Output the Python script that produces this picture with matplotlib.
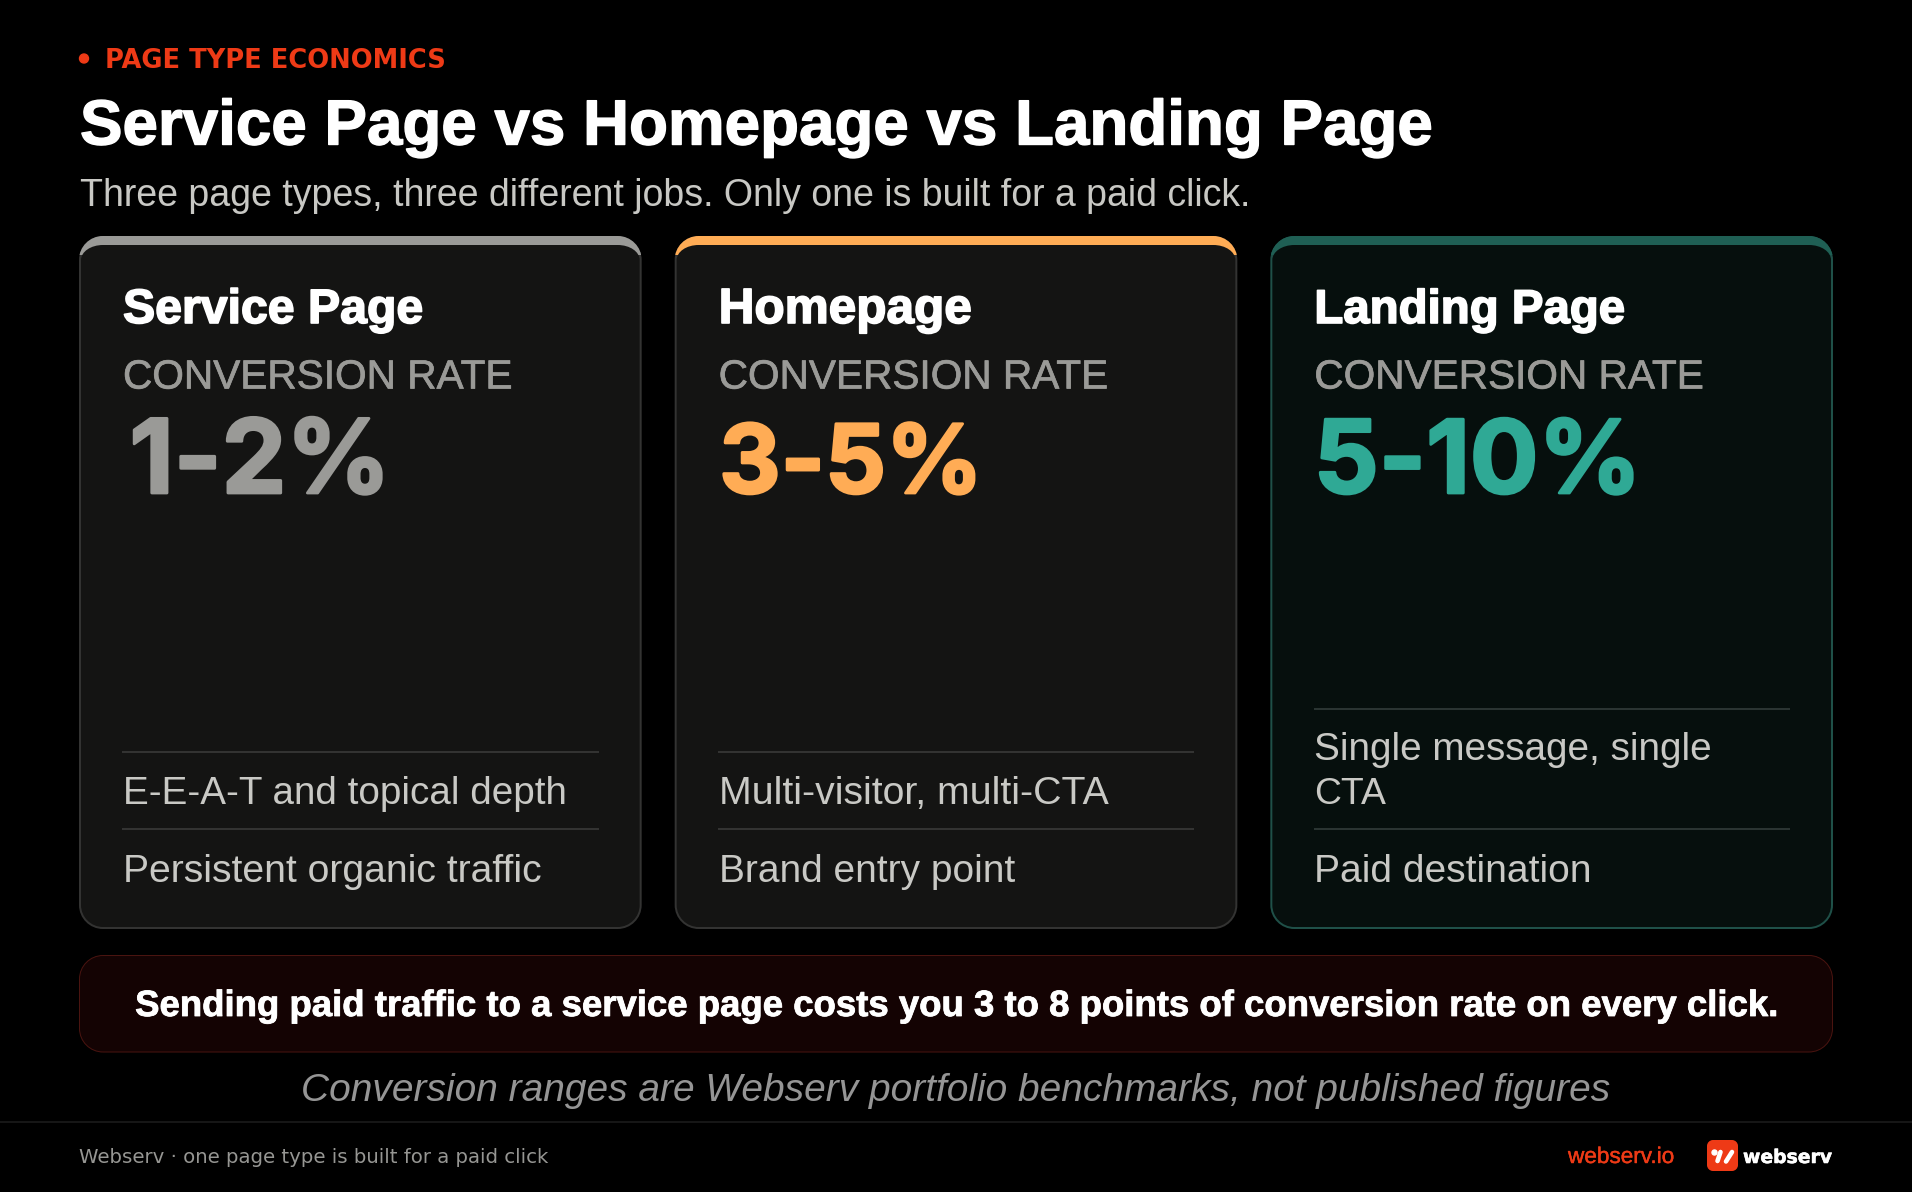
import matplotlib
matplotlib.use("Agg")
import matplotlib.pyplot as plt
from matplotlib.patches import PathPatch, Circle, Rectangle
from matplotlib.path import Path
import matplotlib.patheffects as pe

W, H = 1912, 1192

# content
eyebrow = "PAGE TYPE ECONOMICS"
title = "Service Page vs Homepage vs Landing Page"
subtitle = "Three page types, three different jobs. Only one is built for a paid click."
metric_label = "CONVERSION RATE"
card_names = ["Service Page", "Homepage", "Landing Page"]
card_rates = ["1-2%", "3-5%", "5-10%"]
card_first_rows = [["E-E-A-T and topical depth"], ["Multi-visitor, multi-CTA"], ["Single message, single", "CTA"]]
card_second_rows = ["Persistent organic traffic", "Brand entry point", "Paid destination"]
callout = "Sending paid traffic to a service page costs you 3 to 8 points of conversion rate on every click."
note = "Conversion ranges are Webserv portfolio benchmarks, not published figures"
footer_left = "Webserv \u00b7 one page type is built for a paid click"
footer_url = "webserv.io"
brand = "webserv"

# styles, one entry per card
accent_colors = ["#9a9a97", "#ffac55", "#2fa995"]
bar_colors = ["#9a9a97", "#ffac55", "#1f5f54"]
fill_colors = ["#141413", "#141413", "#060f0d"]
border_colors = ["#333332", "#333332", "#1f5048"]
divider_colors = ["#333332", "#333332", "#2a3432"]
name_widths = [300, 253, 311]
rate_widths = [261, 263, 327]
rate_offsets = [6.5, 0.5, -0.5]
first_row_widths = [[443], [388], [398, 72]]
second_row_widths = [418, 296, 277]

RED = "#ee3a16"
SANS = "Liberation Sans"

fig = plt.figure(figsize=(W / 100, H / 100), dpi=100, facecolor="black")
ax = fig.add_axes([0, 0, 1, 1])
ax.set_xlim(0, W)
ax.set_ylim(H, 0)
ax.axis("off")


def rrect(x0, y0, x1, y1, top, bottom):
    # rounded box, top and bottom are (rx, ry) of the corners
    k = 0.5523
    tx, ty = top
    bx, by = bottom
    verts = [
        (x0 + tx, y0), (x1 - tx, y0),
        (x1 - tx + k * tx, y0), (x1, y0 + ty - k * ty), (x1, y0 + ty),
        (x1, y1 - by),
        (x1, y1 - by + k * by), (x1 - bx + k * bx, y1), (x1 - bx, y1),
        (x0 + bx, y1),
        (x0 + bx - k * bx, y1), (x0, y1 - by + k * by), (x0, y1 - by),
        (x0, y0 + ty),
        (x0, y0 + ty - k * ty), (x0 + tx - k * tx, y0), (x0 + tx, y0),
        (x0 + tx, y0),
    ]
    codes = [Path.MOVETO, Path.LINETO, Path.CURVE4, Path.CURVE4, Path.CURVE4, Path.LINETO,
             Path.CURVE4, Path.CURVE4, Path.CURVE4, Path.LINETO,
             Path.CURVE4, Path.CURVE4, Path.CURVE4, Path.LINETO,
             Path.CURVE4, Path.CURVE4, Path.CURVE4, Path.CLOSEPOLY]
    return Path(verts, codes)


def box(path, color, zorder=1):
    patch = PathPatch(path, facecolor=color, edgecolor="none", zorder=zorder)
    ax.add_patch(patch)
    return patch


def put(x, y, s, width, color, weight="normal", family=SANS, style="normal", ha="left", heavy=0):
    # font size is worked out so the string spans the wanted pixel width
    txt = ax.text(x, y, s, color=color, fontweight=weight, family=family, fontstyle=style,
                  ha=ha, va="baseline", fontsize=30, zorder=5)
    ext = txt.get_window_extent(fig.canvas.get_renderer())
    txt.set_fontsize(30 * width / ext.width)
    if heavy:
        txt.set_path_effects([pe.withStroke(linewidth=heavy, foreground=color)])
    return txt


def hline(x0, x1, y, color):
    ax.plot([x0, x1], [y, y], color=color, lw=1.44, solid_capstyle="butt", zorder=4)


# header
ax.add_patch(Circle((84, 58.5), 4.5, color=RED, zorder=5))
put(105, 68, eyebrow, 341, RED, weight="bold", family="DejaVu Sans")
put(80, 144.5, title, 1353, "white", weight="bold", heavy=1.0)
put(80, 206, subtitle, 1170, "#c8c8c4")

# cards
card_w = 562.67
card_xs = [79, 674.67, 1270.33]
card_top, card_bottom = 236, 929
for i, x0 in enumerate(card_xs):
    x1 = x0 + card_w
    outer = rrect(x0, card_top, x1, card_bottom, (24, 24), (24, 24))
    box(outer, border_colors[i], zorder=1)
    bar = box(outer, bar_colors[i], zorder=2)
    bar.set_clip_path(Rectangle((x0 - 2, card_top - 2), card_w + 4, 21, transform=ax.transData))
    inner = rrect(x0 + 2, card_top + 9, x1 - 2, card_bottom - 2, (22, 15), (22, 22))
    box(inner, fill_colors[i], zorder=3)

    left = x0 + 44
    rule_left = x0 + 43.5
    rule_right = x1 - 43
    put(left, 323, card_names[i], name_widths[i], "white", weight="bold", heavy=1.2)
    put(left, 388.5, metric_label, 389, "#9a9a97", heavy=0.5)
    put(left + rate_offsets[i], 493, card_rates[i], rate_widths[i], accent_colors[i],
        weight="bold", family="Inter", heavy=2.0)

    rows = card_first_rows[i]
    first_rule = 709 if len(rows) > 1 else 752
    hline(rule_left, rule_right, first_rule, divider_colors[i])
    hline(rule_left, rule_right, 829, divider_colors[i])
    for n, line in enumerate(rows):
        put(left, 804 - 43.5 * (len(rows) - 1 - n), line, first_row_widths[i][n], "#c9c9c5")
    put(left, 881.5, card_second_rows[i], second_row_widths[i], "#c9c9c5")

# callout
box(rrect(79, 955, 1833, 1052.5, (24, 24), (24, 24)), "#4a1410", zorder=1)
box(rrect(80, 956, 1832, 1051.5, (23, 23), (23, 23)), "#140303", zorder=2)
put(955, 1016, callout, 1644, "white", weight="bold", ha="center", heavy=0.6)

# note and footer
put(956, 1101, note, 1308, "#959595", style="italic", ha="center")
hline(0, W, 1122, "#161616")
put(79, 1163, footer_left, 471, "#969693", family="DejaVu Sans")
put(1568, 1163, footer_url, 106, RED, heavy=0.3)

# logo
box(rrect(1707, 1140, 1738, 1171, (6, 6), (6, 6)), RED, zorder=4)
ax.add_patch(Circle((1714.5, 1152.5), 2.5, color="white", zorder=6))
for xa, ya, xb, yb in [(1720.5, 1152, 1717.5, 1161), (1732, 1152, 1726, 1161.5)]:
    ax.plot([xa, xb], [ya, yb], color="white", lw=3.3, solid_capstyle="round", zorder=6)
put(1743, 1163, brand, 89, "white", weight="bold", family="DejaVu Sans", heavy=0.4)

fig.savefig("out.png", dpi=100, facecolor="black")
